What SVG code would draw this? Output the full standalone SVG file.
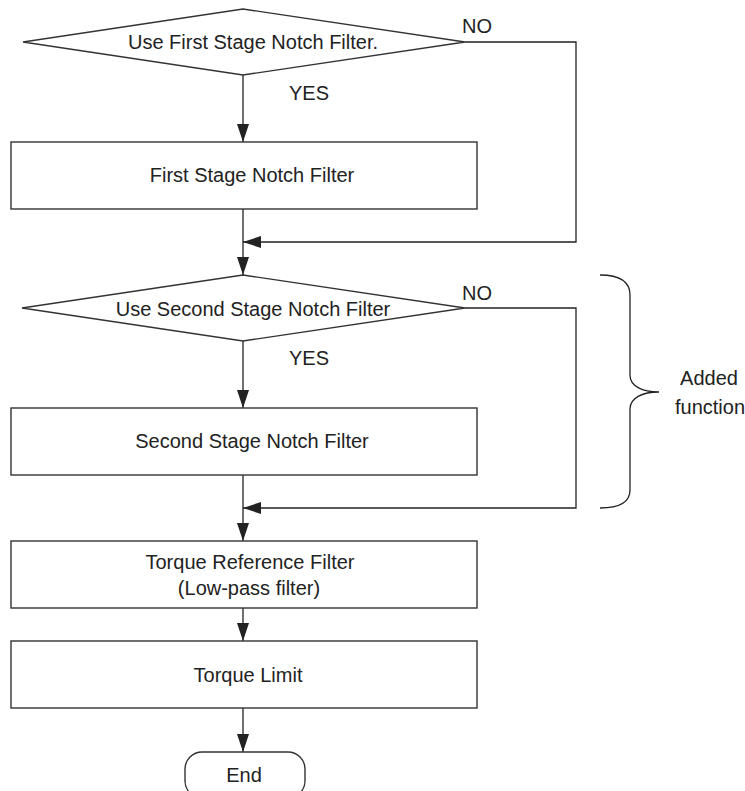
<svg xmlns="http://www.w3.org/2000/svg" width="745" height="791" viewBox="0 0 745 791">
<defs>
<marker id="ah" markerUnits="userSpaceOnUse" markerWidth="18" markerHeight="12" refX="18" refY="6" orient="auto">
<path d="M0,0 L18,6 L0,12 z" fill="#222"/>
</marker>
<style>
.shape{fill:#fff;stroke:#333;stroke-width:1.4}
.ln{fill:none;stroke:#222;stroke-width:1.3}
.arr{fill:none;stroke:#222;stroke-width:1.3;marker-end:url(#ah)}
text{font-family:"Liberation Sans",Arial,sans-serif;font-size:20px;fill:#222}
.c{text-anchor:middle}
</style>
</defs>
<rect width="745" height="791" fill="#fff"/>
<g id="connectors">
<line class="arr" x1="243" y1="75" x2="243" y2="142"/>
<line class="arr" x1="243" y1="209" x2="243" y2="275"/>
<polyline class="arr" points="465,42 576,42 576,242 243,242"/>
<line class="arr" x1="243" y1="341" x2="243" y2="408"/>
<line class="arr" x1="243" y1="475" x2="243" y2="541"/>
<polyline class="arr" points="465,308 576,308 576,508 243,508"/>
<line class="arr" x1="243" y1="608" x2="243" y2="641"/>
<line class="arr" x1="243" y1="708" x2="243" y2="752"/>
<text x="462" y="33">NO</text>
<text x="289" y="100">YES</text>
<text x="462" y="300">NO</text>
<text x="289" y="365">YES</text>
</g>
<g id="decision1">
<polygon class="shape" points="23,42 243,9 465,42 243,75"/>
<text class="c" x="253" y="49">Use First Stage Notch Filter.</text>
</g>
<g id="box1">
<rect class="shape" x="11" y="142" width="466" height="67"/>
<text class="c" x="252" y="182">First Stage Notch Filter</text>
</g>
<g id="decision2">
<polygon class="shape" points="22,308 243,275 465,308 243,341"/>
<text class="c" x="253" y="316">Use Second Stage Notch Filter</text>
</g>
<g id="box2">
<rect class="shape" x="11" y="408" width="466" height="67"/>
<text class="c" x="252" y="448">Second Stage Notch Filter</text>
</g>
<g id="box3">
<rect class="shape" x="11" y="541" width="466" height="67"/>
<text class="c" x="250" y="569">Torque Reference Filter</text>
<text class="c" x="249" y="595">(Low-pass filter)</text>
</g>
<g id="box4">
<rect class="shape" x="11" y="641" width="466" height="67"/>
<text class="c" x="248" y="682">Torque Limit</text>
</g>
<g id="end">
<rect class="shape" x="185" y="752" width="120" height="46" rx="17" ry="17"/>
<text class="c" x="244" y="782">End</text>
</g>
<g id="brace">
<path class="ln" d="M600,275 C620,275 630,282 630,295 L630,375 C630,386 642,392 659,392 C642,392 630,398 630,409 L630,490 C630,502 620,508 600,508"/>
<text class="c" x="709" y="385">Added</text>
<text class="c" x="710" y="414">function</text>
</g>
</svg>
